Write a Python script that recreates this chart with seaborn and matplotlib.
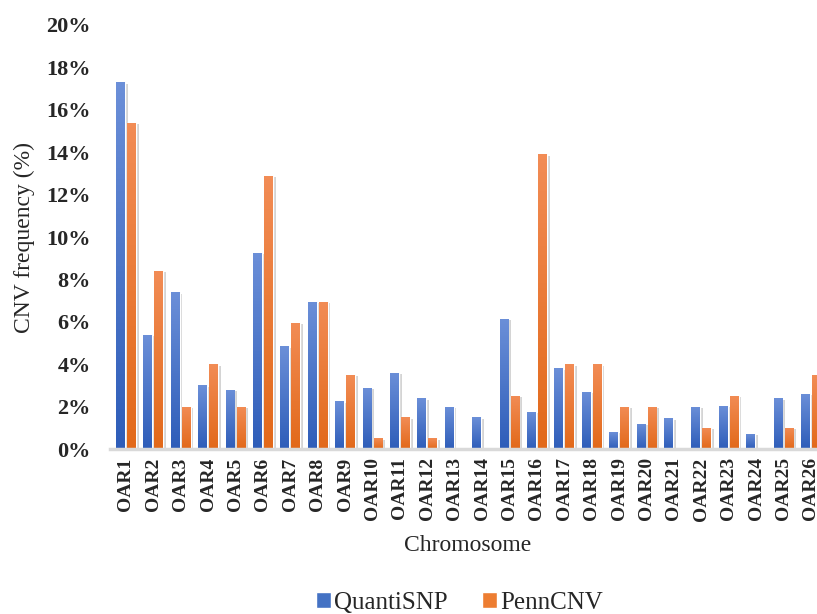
import numpy as np
import pandas as pd
import matplotlib
matplotlib.use('Agg')
import matplotlib.pyplot as plt
import matplotlib.patheffects as pe
from matplotlib.colors import LinearSegmentedColormap
from matplotlib.ticker import FuncFormatter
import seaborn as sns

chromosomes = ['OAR%d' % i for i in range(1, 27)]
quantisnp = [17.3, 5.4, 7.4, 3.0, 2.8, 9.25, 4.85, 6.95, 2.25, 2.9,
             3.6, 2.4, 2.0, 1.5, 6.15, 1.75, 3.8, 2.7, 0.8, 1.2,
             1.45, 2.0, 2.05, 0.72, 2.4, 2.6]
penncnv = [15.4, 8.4, 2.0, 4.0, 2.0, 12.9, 5.95, 6.95, 3.5, 0.5,
           1.5, 0.5, 0.0, 0.0, 2.5, 13.9, 4.0, 4.0, 2.0, 2.0,
           0.0, 1.0, 2.5, 0.0, 1.0, 3.5]

df = pd.DataFrame({
    'chrom': chromosomes * 2,
    'freq': np.array(quantisnp + penncnv) / 100.0,
    'method': ['QuantiSNP'] * len(chromosomes) + ['PennCNV'] * len(chromosomes),
})

sns.set_style('white')
plt.rcParams['font.family'] = ['Liberation Serif', 'DejaVu Serif']

fig = plt.figure(figsize=(8.17, 6.14), dpi=100)
ax = fig.add_axes([0.1346, 0.2687, 0.8748, 0.6906])

palette = {'QuantiSNP': '#4472C4', 'PennCNV': '#ED7D31'}
sns.barplot(data=df, x='chrom', y='freq', hue='method', palette=palette,
            width=0.8, gap=0.2, ax=ax, saturation=1)

# light top-to-dark bottom shading on each bar, like the office chart
grad = {'#4472C4': ('#6b8fd8', '#2e5db9'), '#ED7D31': ('#f28c55', '#e2691a')}
for bar in list(ax.patches):
    h = bar.get_height()
    if h <= 0:
        continue
    fc = matplotlib.colors.to_hex(bar.get_facecolor()).upper()
    key = '#4472C4' if fc == '#4472C4' else '#ED7D31'
    cmap = LinearSegmentedColormap.from_list('g', [grad[key][1], grad[key][0]])
    x0 = bar.get_x()
    w = bar.get_width()
    bar.set_path_effects([pe.SimplePatchShadow(offset=(2, -1), alpha=0.25, shadow_rgbFace='#555555'),
                          pe.Normal()])
    im = ax.imshow(np.linspace(0, 1, 64).reshape(-1, 1), extent=(x0, x0 + w, 0, h),
                   origin='lower', aspect='auto', cmap=cmap, zorder=bar.get_zorder() + 0.1)
    im.set_clip_path(bar)

ax.set_xlim(-0.58, 25.5)
ax.set_ylim(0, 0.20)
ax.set_yticks(np.arange(0, 0.201, 0.02))
ax.yaxis.set_major_formatter(FuncFormatter(lambda v, p: '%d%%' % round(v * 100)))

for s in ['top', 'right', 'left']:
    ax.spines[s].set_visible(False)
ax.spines['bottom'].set_color('#d9d9d9')
ax.spines['bottom'].set_linewidth(2.5)
ax.tick_params(axis='both', length=0)
ax.tick_params(axis='y', pad=14)
ax.tick_params(axis='x', pad=6)

for lab in ax.get_xticklabels():
    lab.set_rotation(90)
    lab.set_fontweight('bold')
    lab.set_fontsize(14)
for lab in ax.get_yticklabels():
    lab.set_fontweight('bold')
    lab.set_fontsize(16)

ax.set_xlabel('Chromosome', fontsize=17)
ax.set_ylabel('CNV frequency (%)', fontsize=17)
ax.xaxis.set_label_coords(0.5, -0.203)
ax.yaxis.set_label_coords(-0.105, 0.5)

handles, labels = ax.get_legend_handles_labels()
ax.legend(handles=handles, labels=labels, loc='center', bbox_to_anchor=(0.489, -0.363),
          ncol=2, frameon=False, fontsize=18, handlelength=0.6, handleheight=0.6,
          handletextpad=0.15, columnspacing=1.35)

fig.savefig('out.png', dpi=100)
